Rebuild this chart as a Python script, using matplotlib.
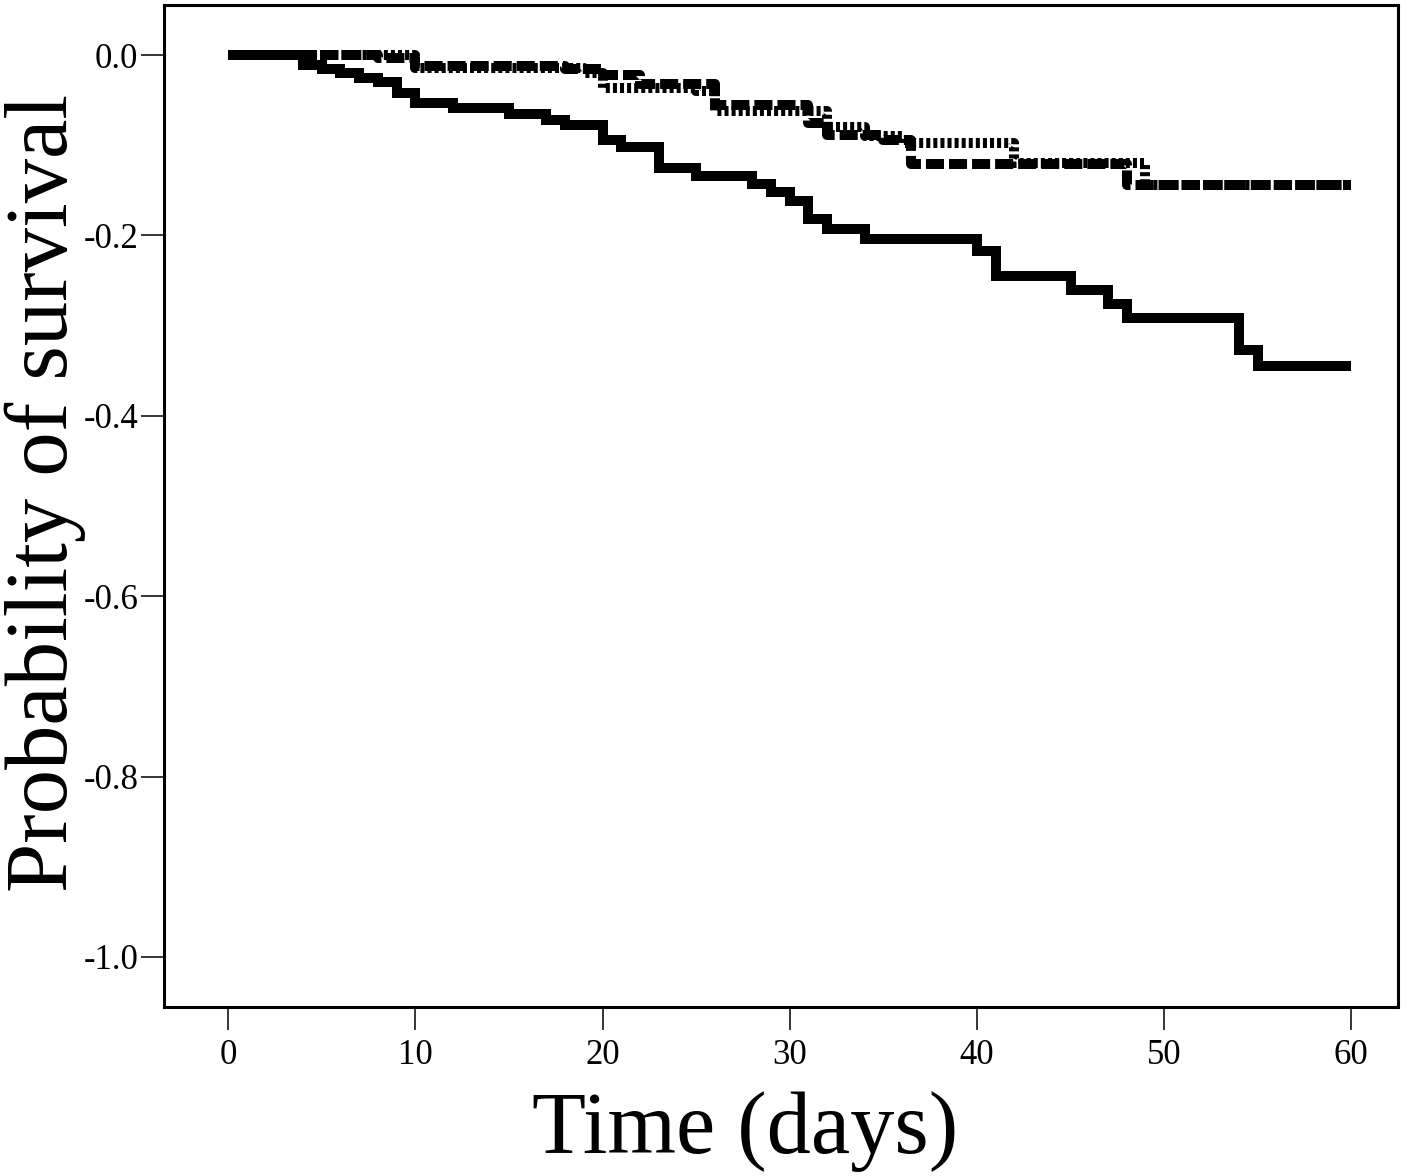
import matplotlib
matplotlib.use("Agg")
import matplotlib.pyplot as plt

plt.rcParams['font.family'] = ['Liberation Serif', 'DejaVu Serif']
plt.rcParams['axes.unicode_minus'] = False
plt.rcParams['lines.scale_dashes'] = False

# Solid group: step times (days) and survival values after each step
solid_days = [0, 4, 5, 6, 7, 8, 9, 10, 12, 15, 17, 18, 20, 21, 23, 25, 28, 29, 30,
              31, 32, 34, 40, 41, 45, 47, 48, 54, 55, 60]
solid_vals = [0.0, -0.011, -0.015, -0.020, -0.026, -0.030, -0.042, -0.053, -0.059,
              -0.065, -0.072, -0.078, -0.094, -0.102, -0.125, -0.134, -0.143, -0.152,
              -0.162, -0.182, -0.193, -0.204, -0.217, -0.245, -0.260, -0.276, -0.292,
              -0.327, -0.345, -0.345]

# Dashed group
dash_days = [0, 8, 10, 18, 20, 22, 26, 31, 32, 35, 36.5, 48, 60]
dash_vals = [0.0, -0.003, -0.012, -0.016, -0.022, -0.032, -0.055, -0.075, -0.089,
             -0.094, -0.121, -0.144, -0.144]

# Dotted group
dot_days = [0, 10, 19, 20, 25, 26, 32, 34, 36, 42, 49, 60]
dot_vals = [0.0, -0.014, -0.020, -0.037, -0.040, -0.062, -0.080, -0.090, -0.0976,
            -0.120, -0.144, -0.144]

x_ticks = [0, 10, 20, 30, 40, 50, 60]
y_ticks = [0.0, -0.2, -0.4, -0.6, -0.8, -1.0]
y_tick_labels = ["0.0", "-0.2", "-0.4", "-0.6", "-0.8", "-1.0"]

fig = plt.figure(figsize=(14.18, 11.76), dpi=100)
ax = fig.add_axes([0.1157, 0.144, 0.8703, 0.8517])

lw = 7.2
ax.plot(solid_days, solid_vals, drawstyle='steps-post', color='black', lw=lw,
        solid_capstyle='butt', solid_joinstyle='miter')
ax.plot(dash_days, dash_vals, drawstyle='steps-post', color='black', lw=lw,
        linestyle=(0, (13.0, 3.6)), dash_capstyle='butt')
ax.plot(dot_days, dot_vals, drawstyle='steps-post', color='black', lw=lw,
        linestyle=(0, (2.9, 2.2)), dash_capstyle='butt')

ax.set_xlim(-3.42, 62.5)
ax.set_ylim(-1.0551, 0.0554)
ax.set_xticks(x_ticks)
ax.set_yticks(y_ticks)
ax.set_yticklabels(y_tick_labels)

for s in ax.spines.values():
    s.set_linewidth(2.2)
ax.tick_params(axis='both', direction='out', length=16.5, width=1.1,
               labelsize=25, colors='black')
ax.tick_params(axis='y', pad=2)
ax.tick_params(axis='x', pad=7)

fig.text(745 / 1418, (1176 - 1152.7) / 1176, "Time (days)", fontsize=63.5,
         ha='center', va='baseline')
fig.text(67 / 1418, (1176 - 492.5) / 1176, "Probability of survival", fontsize=63.8,
         ha='center', va='baseline', rotation=90, rotation_mode='anchor')

fig.savefig("out.png", dpi=100)
